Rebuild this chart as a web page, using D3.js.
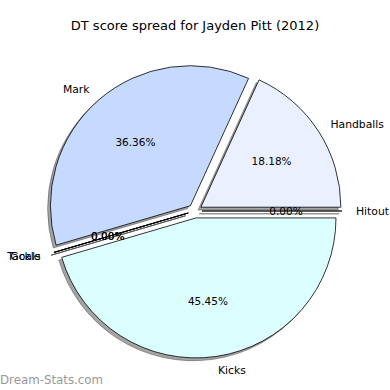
<!DOCTYPE html>
<html>
<head>
<meta charset="utf-8">
<script src="https://cdn.jsdelivr.net/npm/d3@7"></script>
<style>
  body { margin: 0; background: #fff; }
  text { font-family: "DejaVu Sans", sans-serif; }
</style>
</head>
<body>
<div id="chart"></div>
<script>
// slices in matplotlib order, counter-clockwise from 3 o'clock
const labels = ["Handballs", "Mark", "Tackle", "Goals", "Kicks", "Hitout"];
const scores = [6, 12, 0, 0, 15, 0];
const colors = ["#ebf0ff", "#c6d9ff", "#ffe0e0", "#e0ffe0", "#dbffff", "#fff0d0"];

const width = 390, height = 390;
const cx = 195, cy = 211, r = 140;
const explode = 0.05, labelDist = 1.1, pctDist = 0.6;

const svg = d3.select("#chart")
    .append("svg")
    .attr("width", width)
    .attr("height", height);

const total = d3.sum(scores);
const data = labels.map((l, i) => ({ label: l, value: scores[i], color: colors[i] }));

// d3 angles: 0 at top, clockwise. start at 3 o'clock and go anticlockwise
const pie = d3.pie()
    .sort(null)
    .value(d => d.value)
    .startAngle(Math.PI / 2)
    .endAngle(Math.PI / 2 - 2 * Math.PI);

const arcs = pie(data);
const arc = d3.arc().innerRadius(0).outerRadius(r);

const dir = a => [Math.sin(a), -Math.cos(a)];

arcs.forEach(d => {
    const mid = (d.startAngle + d.endAngle) / 2;
    const [ux, uy] = dir(mid);
    d.ox = cx + ux * explode * r;
    d.oy = cy + uy * explode * r;
    d.ux = ux; d.uy = uy;
});

// shadows
svg.selectAll(".shadow")
    .data(arcs)
    .enter()
    .append("path")
    .attr("class", "shadow")
    .attr("transform", d => `translate(${d.ox - 0.02 * r},${d.oy + 0.02 * r})`)
    .attr("d", arc)
    .attr("fill", "#4a4a4a")
    .attr("fill-opacity", 0.5)
    .attr("stroke", "#4a4a4a")
    .attr("stroke-opacity", 0.5)
    .attr("stroke-width", 1);

// wedges
svg.selectAll(".wedge")
    .data(arcs)
    .enter()
    .append("path")
    .attr("class", "wedge")
    .attr("transform", d => `translate(${d.ox},${d.oy})`)
    .attr("d", arc)
    .attr("fill", d => d.data.color)
    .attr("stroke", "#000")
    .attr("stroke-width", 0.8)
    .attr("stroke-linejoin", "round");

// outer labels (Tackle and Goals sit on top of each other, as in the original)
svg.selectAll(".label")
    .data(arcs)
    .enter()
    .append("text")
    .attr("class", "label")
    .attr("x", d => d.ox + d.ux * labelDist * r)
    .attr("y", d => d.oy + d.uy * labelDist * r)
    .attr("dy", "0.35em")
    .attr("text-anchor", d => d.ux >= 0 ? "start" : "end")
    .attr("font-size", "10.8px")
    .attr("fill", "#000")
    .text(d => d.data.label);

// percentages
svg.selectAll(".pct")
    .data(arcs)
    .enter()
    .append("text")
    .attr("class", "pct")
    .attr("x", d => d.ox + d.ux * pctDist * r)
    .attr("y", d => d.oy + d.uy * pctDist * r)
    .attr("dy", "0.35em")
    .attr("text-anchor", "middle")
    .attr("font-size", "10.5px")
    .attr("fill", "#000")
    .text(d => (d.data.value / total * 100).toFixed(2) + "%");

// title
svg.append("text")
    .attr("x", width / 2)
    .attr("y", 30)
    .attr("text-anchor", "middle")
    .attr("font-size", "13px")
    .attr("fill", "#000")
    .text("DT score spread for Jayden Pitt (2012)");

// watermark
svg.append("text")
    .attr("x", 0)
    .attr("y", 384)
    .attr("font-size", "11.8px")
    .attr("fill", "#999")
    .text("Dream-Stats.com");
</script>
</body>
</html>
